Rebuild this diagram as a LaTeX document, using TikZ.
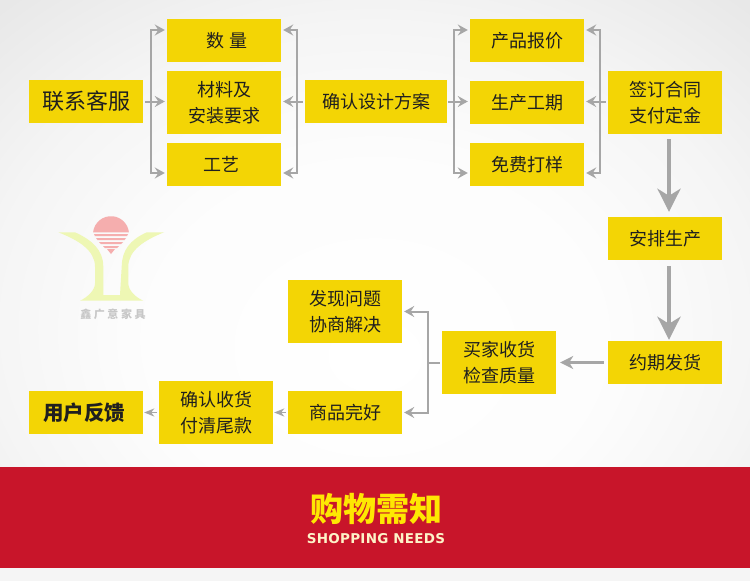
\documentclass[tikz,border=0pt]{standalone}
\usepackage{xcolor}
\usepackage{fontspec}
\usepackage{tikz}
\usetikzlibrary{arrows.meta}
\setmainfont{Noto Sans CJK SC}
\newfontfamily\bannerfont[LetterSpace=2]{DejaVu Sans}
\definecolor{boxyellow}{HTML}{F3D505}
\definecolor{arrowgray}{HTML}{A6A6A6}
\definecolor{bandred}{HTML}{C8152A}
\definecolor{sunpink}{HTML}{F5AEAE}
\definecolor{logogreen}{HTML}{EEF7B4}
\definecolor{bannercream}{HTML}{FDF3C8}
\pgfdeclareradialshading{bgglow}{\pgfpoint{0bp}{-6bp}}{color(0bp)=(white); color(16bp)=(white!99!black); color(26bp)=(white!96!black); color(36bp)=(white!91!black); color(50bp)=(white!88!black)}
\tikzset{
 infobox/.style={fill=boxyellow, minimum width=114pt, minimum height=43pt, inner sep=0pt, align=center, text=black!88, font=\fontsize{18}{26}\selectfont},
 tallbox/.style={infobox, minimum height=63pt},
 thinarrow/.style={draw=arrowgray, line width=2pt, -{Stealth[length=10pt,width=11pt,inset=3.5pt]}},
 thinline/.style={draw=arrowgray, line width=2pt},
 midarrow/.style={draw=arrowgray, line width=2.4pt, -{Stealth[length=13pt,width=13pt,inset=4pt]}},
 bigarrow/.style={draw=arrowgray, line width=4.5pt, -{Stealth[length=23pt,width=23pt,inset=7pt]}},
 tinyarrow/.style={draw=arrowgray, line width=1.6pt, -{Stealth[length=10pt,width=8pt,inset=3pt]}}
}

\begin{document}
\begin{tikzpicture}[x=1pt,y=-1pt]
\useasboundingbox (0,0) rectangle (750,581);
\shade[shading=bgglow] (0,0) rectangle (750,581);
\fill[bandred] (0,467) rectangle (750,568);
\fill[white!96!black] (0,568) rectangle (750,581);

\fill[logogreen] (58.3,232.3) -- (75,232.3) .. controls (92,240) and (103.3,250) .. (103.3,266.7) -- (103.3,295) -- (120,295) -- (121.7,266.7) .. controls (122,250) and (130,240) .. (146.7,232.3) -- (164,232.3) .. controls (145,240) and (128.3,250) .. (128.3,266.7) -- (128.3,283.3) .. controls (128.3,290) and (135,297) .. (143.3,300.7) -- (80,300.7) .. controls (88,297) and (95,290) .. (95,283.3) -- (95,266.7) .. controls (95,250) and (78,240) .. (58.3,232.3) -- cycle;
\fill[sunpink] (93.1,232.3) arc (186:354:18) -- cycle;
\fill[sunpink] (94,234) -- (128,234) -- (127,236) -- (95,236) -- cycle;
\fill[sunpink] (96,238) -- (126,238) -- (124.5,240) -- (97.5,240) -- cycle;
\fill[sunpink] (99,242) -- (123,242) -- (121,244) -- (101,244) -- cycle;
\fill[sunpink] (103,246) -- (119,246) -- (117,248) -- (105,248) -- cycle;
\fill[sunpink] (107,249) -- (115,249) -- (111,254) -- cycle;
\node[text=black!22, font=\fontsize{11}{11}\selectfont\bfseries] (logotext) at (113,314) {鑫\hspace{2.6pt}广\hspace{2.6pt}意\hspace{2.6pt}家\hspace{2.6pt}具};

\node[infobox, font=\fontsize{22}{26}\selectfont] (lianxi) at (86,101.5) {\raisebox{-1pt}{联系客服}};
\node[infobox] (shuliang) at (224,40.5) {\raisebox{-2pt}{\hspace*{6pt}数\hspace{6pt}量}};
\node[tallbox] (cailiao) at (224,102.5) {材料及\\安装要求};
\node[infobox] (gongyi) at (224,164.5) {\raisebox{-1.5pt}{\hspace*{-5pt}工艺}};
\node[infobox, minimum width=142pt] (queren) at (376,101.5) {确认设计方案};
\node[infobox] (baojia) at (527,40.5) {\raisebox{-1pt}{产品报价}};
\node[infobox] (gongqi) at (527,102.5) {\raisebox{-1pt}{生产工期}};
\node[infobox] (dayang) at (527,164.5) {\raisebox{-1pt}{免费打样}};
\node[tallbox] (qianding) at (665,102.5) {签订合同\\支付定金};
\node[infobox] (anpai) at (665,238.5) {安排生产};
\node[infobox] (fahuo) at (665,362.5) {\raisebox{-1pt}{约期发货}};
\node[tallbox] (maijia) at (499,362.5) {买家收货\\检查质量};
\node[tallbox] (faxian) at (345,311.5) {发现问题\\协商解决};
\node[infobox] (wanhao) at (345,412.5) {\raisebox{-1pt}{商品完好}};
\node[tallbox] (fukuan) at (216,412.5) {确认收货\\付清尾款};
\node[infobox, font=\fontsize{20.5}{26}\selectfont\bfseries] (fankui) at (86,412.5) {\raisebox{-1pt}{\hspace*{-4pt}用户反馈}};

\coordinate (brka) at (151,101.5);
\coordinate (brkb) at (297,101.5);
\coordinate (brkc) at (454,101.5);
\coordinate (brkd) at (600,101.5);
\coordinate (brke) at (428,362.5);

\draw[thinarrow, shorten <=2pt, shorten >=2pt] (lianxi.east) -- (lianxi.east -| cailiao.west);
\draw[thinarrow, shorten >=2pt] (brka) |- ([yshift=10.5pt]shuliang.west);
\draw[thinarrow, shorten >=2pt] (brka) |- ([yshift=-8.5pt]gongyi.west);
\draw[thinarrow, shorten <=2pt, shorten >=2pt] (queren.west) -- (queren.west -| cailiao.east);
\draw[thinarrow, shorten >=2pt] (brkb) |- ([yshift=10.5pt]shuliang.east);
\draw[thinarrow, shorten >=2pt] (brkb) |- ([yshift=-8.5pt]gongyi.east);
\draw[thinarrow, shorten <=1pt, shorten >=2pt] (queren.east) -- (queren.east -| gongqi.west);
\draw[thinarrow, shorten >=2pt] (brkc) |- ([yshift=10.5pt]baojia.west);
\draw[thinarrow, shorten >=2pt] (brkc) |- ([yshift=-8.5pt]dayang.west);
\draw[thinarrow, shorten <=2pt, shorten >=2pt] (qianding.west |- brkd) -- (gongqi.east |- brkd);
\draw[thinarrow, shorten >=2pt] (brkd) |- ([yshift=10.5pt]baojia.east);
\draw[thinarrow, shorten >=2pt] (brkd) |- ([yshift=-8.5pt]dayang.east);

\draw[bigarrow, shorten <=5pt, shorten >=5pt] ([xshift=4pt]qianding.south) -- ([xshift=4pt]anpai.north);
\draw[bigarrow, shorten <=6pt, shorten >=1pt] ([xshift=4pt]anpai.south) -- ([xshift=4pt]fahuo.north);
\draw[midarrow, shorten <=4pt, shorten >=4pt] (fahuo.west) -- (maijia.east);

\draw[thinline, shorten <=2pt] (maijia.west) -- (brke);
\draw[thinarrow, shorten >=2pt] (brke) |- (faxian.east);
\draw[thinarrow, shorten >=2pt] (brke) |- (wanhao.east);
\draw[tinyarrow, shorten <=2pt, shorten >=1pt] (wanhao.west) -- (fukuan.east |- wanhao.west);
\draw[tinyarrow, shorten <=2pt, shorten >=1pt] (fukuan.west |- fankui.east) -- (fankui.east);

\node[text=yellow!90!orange, font=\fontsize{33}{33}\selectfont\bfseries] (bantitle) at (376,508.5) {购物需知};
\node[text=bannercream, font=\bannerfont\fontsize{13.5}{14}\selectfont\bfseries] (bansub) at (376,538.5) {SHOPPING NEEDS};
\end{tikzpicture}
\end{document}
